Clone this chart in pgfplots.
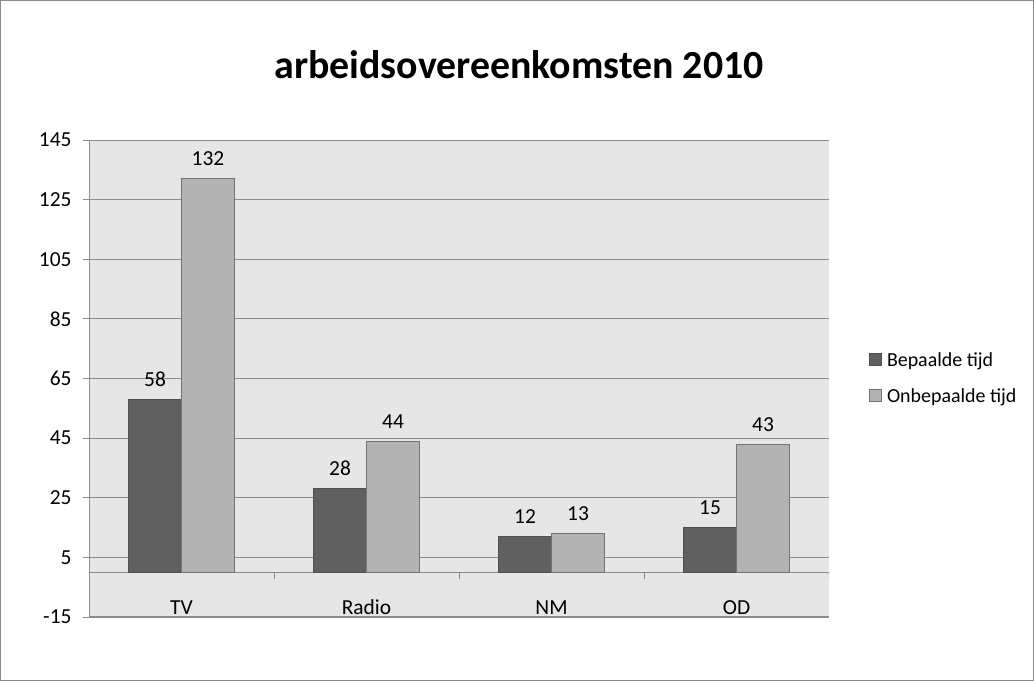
\documentclass[border=0pt]{standalone}
\usepackage{pgfplots}
\pgfplotsset{compat=1.18}
\usepackage{fontspec}
\setmainfont{Carlito}
\definecolor{darkbar}{HTML}{606060}
\definecolor{lightbar}{HTML}{B3B3B3}
\definecolor{baredge}{HTML}{505050}
\definecolor{bgc}{HTML}{E6E6E6}
\definecolor{gridc}{HTML}{8C8C8C}
\definecolor{framec}{HTML}{8A8A8A}
\begin{document}
\begin{tikzpicture}[x=1bp,y=1bp]
\draw[draw=framec, line width=1bp] (0.5,0.5) rectangle (1033.5,680.5);
\node[font=\fontsize{40}{44}\selectfont\bfseries] at (519,616) {arbeidsovereenkomsten 2010};
\begin{axis}[at={(89bp,64bp)}, anchor=south west, scale only axis,
  width=740bp, height=477bp,
  ymin=-15, ymax=145, ytick={-15,5,...,145},
  xmin=-0.5, xmax=3.5,
  axis background/.style={fill=bgc},
  ymajorgrids, grid style={gridc, line width=0.8bp},
  axis x line*=bottom, axis y line*=left,
  axis line style={gridc, line width=1bp, -},
  tick align=outside, major tick length=6bp,
  ytick style={gridc, line width=0.8bp},
  xtick=data, xticklabels={TV,Radio,NM,OD},
  xtick style={draw=none},
  xticklabel style={anchor=base, yshift=8bp},
  ticklabel style={font=\fontsize{21.5}{24}\selectfont},
  yticklabel style={xshift=-8bp},
  /pgf/number format/assume math mode=true,
  ybar=0pt, bar width=53bp,
  nodes near coords,
  every node near coord/.append style={font=\fontsize{21.5}{24}\selectfont, yshift=9bp},
  legend style={at={(1.05,0.5)}, anchor=west, draw=none, fill=none,
    font=\fontsize{20}{22}\selectfont, row sep=17bp,
    nodes={inner xsep=5bp}},
  legend cell align=left,
  legend image code/.code={\draw[#1] (0bp,-5bp) rectangle (12bp,7bp);},
]
\draw[gridc, line width=1bp] (axis cs:-0.5,0) -- (axis cs:3.5,0);
\draw[gridc, line width=0.8bp] (axis cs:0.5,0) -- (axis cs:0.5,-2.4);
\draw[gridc, line width=0.8bp] (axis cs:1.5,0) -- (axis cs:1.5,-2.4);
\draw[gridc, line width=0.8bp] (axis cs:2.5,0) -- (axis cs:2.5,-2.4);
\draw[gridc, line width=0.8bp] (axis cs:3.5,0) -- (axis cs:3.5,-2.4);
\addplot[fill=darkbar, draw=baredge, line width=0.8bp] coordinates {(0,58) (1,28) (2,12) (3,15)};
\addplot[fill=lightbar, draw=baredge!80, line width=0.8bp] coordinates {(0,132) (1,44) (2,13) (3,43)};
\legend{Bepaalde tijd, Onbepaalde tijd}
\end{axis}
\end{tikzpicture}
\end{document}
